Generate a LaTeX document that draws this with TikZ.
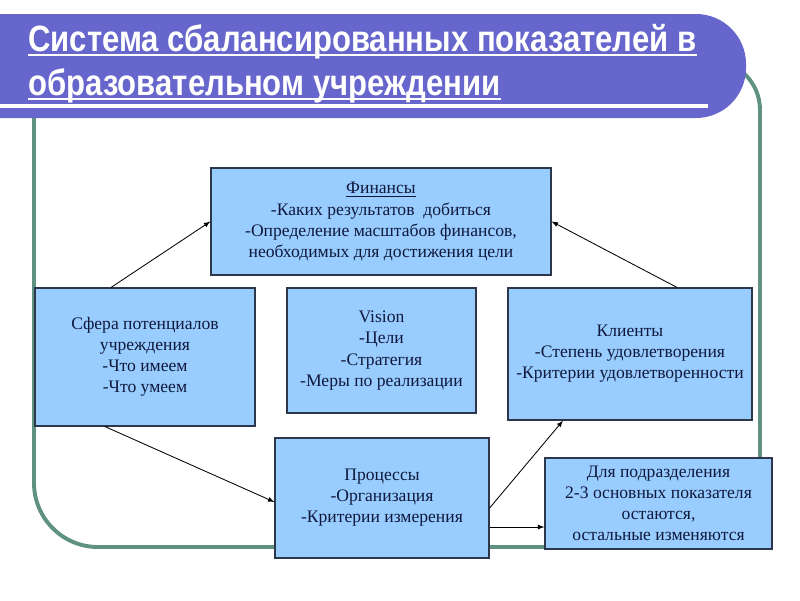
\documentclass[tikz,border=0pt]{standalone}
\usepackage{fontspec}
\setmainfont{Liberation Serif}
\newfontfamily\titlefont[FakeStretch=0.85]{Liberation Sans}
\definecolor{bannerblue}{RGB}{102,102,204}
\definecolor{framegreen}{RGB}{96,146,130}
\definecolor{boxblue}{RGB}{153,204,255}
\definecolor{boxline}{RGB}{45,55,75}
\definecolor{boxtext}{RGB}{15,25,60}
\begin{document}
\begin{tikzpicture}[x=0.025cm,y=-0.025cm]
      \useasboundingbox (0,0) rectangle (800,600);
      \clip (0,0) rectangle (800,600);
      \draw[framegreen,line width=2.8pt,rounded corners=1.6cm] (34,100) -- (34,547) -- (560,547);
      \draw[framegreen,line width=2.8pt,rounded corners=1.25cm] (560,547) -- (760,547) -- (760,60) -- (600,60);
      \fill[bannerblue,rounded corners=1.25cm] (-100,14) rectangle (746,118);
      \draw[white,line width=2.2pt] (-10,106) -- (708,106);
      \begin{scope}[every node/.style={anchor=base west,inner sep=0pt,text=white,font=\titlefont\bfseries\fontsize{26}{30}\selectfont}]
        \node (T1) at (28,51) {Система сбалансированных показателей в};
        \node (T2) at (28,95) {образовательном учреждении};
      \end{scope}
      \draw[white,line width=1.5pt] ([yshift=-0.11cm]T1.base west) -- ([yshift=-0.11cm]T1.base east);
      \draw[white,line width=1.5pt] ([yshift=-0.11cm]T2.base west) -- ([yshift=-0.11cm]T2.base east);
      \begin{scope}[every node/.style={rectangle,draw=boxline,line width=0.8pt,fill=boxblue,text=boxtext,align=center,inner sep=0pt,font=\fontsize{12.5}{15}\selectfont}]
        \node[minimum width=8.5cm,minimum height=2.675cm] (Fin) at (381,221.5) {\underline{Финансы}\\-Каких результатов\ \ добиться\\-Определение масштабов финансов,\\ необходимых для достижения цели};
        \node[minimum width=5.5cm,minimum height=3.45cm] (Sfera) at (145,357) {Сфера потенциалов\\учреждения\\-Что имеем\\-Что умеем};
        \node[minimum width=4.725cm,minimum height=3.125cm] (Vis) at (381.5,350.5) {Vision\\-Цели\\-Стратегия\\-Меры по реализации};
        \node[minimum width=6.1cm,minimum height=3.3cm] (Klient) at (630,354) {Клиенты\\-Степень удовлетворения\\-Критерии удовлетворенности};
        \node[minimum width=5.35cm,minimum height=3cm] (Proc) at (382,498) {Процессы\\-Организация\\-Критерии измерения};
        \node[minimum width=5.675cm,minimum height=2.275cm] (Dlya) at (658.5,503.5) {Для подразделения\\2-3 основных показателя\\остаются,\\остальные изменяются};
      \end{scope}
      \begin{scope}[every path/.style={-latex,line width=0.6pt}]
        \draw ([xshift=-0.85cm]Sfera.north) -- (Fin.west);
        \draw ([xshift=1.175cm]Klient.north) -- (Fin.east);
        \draw ([xshift=-1cm]Sfera.south) -- ([yshift=-0.1cm]Proc.west);
        \draw ([yshift=-0.25cm]Proc.east) -- ([xshift=-1.675cm]Klient.south);
        \draw ([yshift=-0.725cm]Proc.east) coordinate (P5) -- (P5 -| Dlya.west);
      \end{scope}
    \end{tikzpicture}
\end{document}
